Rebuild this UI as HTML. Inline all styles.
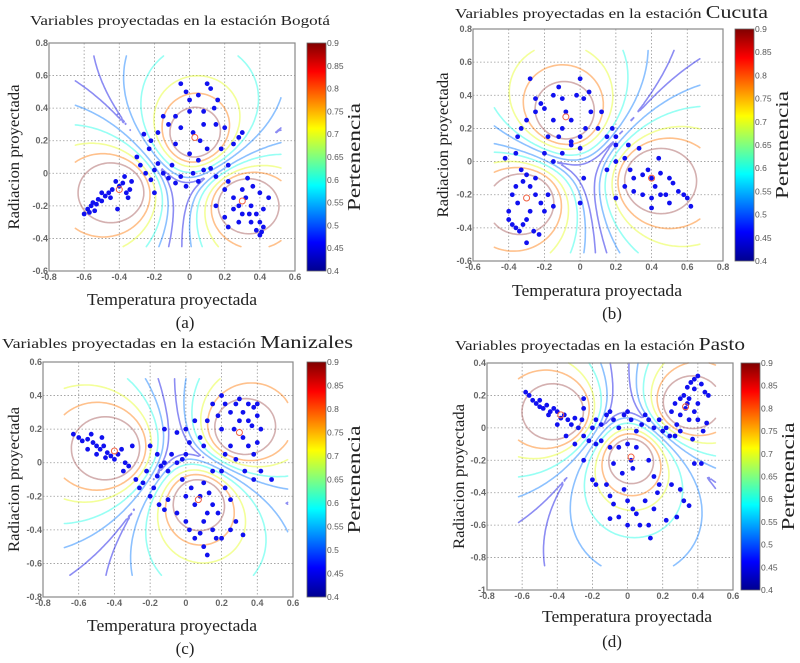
<!DOCTYPE html>
<html><head><meta charset="utf-8">
<style>
html,body{margin:0;padding:0;background:#fff;}
svg{display:block;}
.tick{font-family:"Liberation Sans",sans-serif;font-size:9px;fill:#666;font-weight:bold;}
.cbt{font-family:"Liberation Sans",sans-serif;font-size:8.5px;fill:#555;}
.lab{font-family:"Liberation Serif",serif;font-size:16px;fill:#222;}
.ttl{font-family:"Liberation Serif",serif;font-size:14px;fill:#222;}
</style></head>
<body>
<svg id="fig" width="800" height="663" viewBox="0 0 800 663" xmlns="http://www.w3.org/2000/svg">
<defs>
<linearGradient id="jet" x1="0" y1="1" x2="0" y2="0">
<stop offset="0" stop-color="#00008f"/><stop offset="0.125" stop-color="#0000ff"/>
<stop offset="0.375" stop-color="#00ffff"/><stop offset="0.625" stop-color="#ffff00"/>
<stop offset="0.875" stop-color="#ff0000"/><stop offset="1" stop-color="#800000"/>
</linearGradient>
</defs>
</svg>
<script>
const NS="http://www.w3.org/2000/svg";
const svg=document.getElementById('fig');
const levels=[0.45,0.52,0.6,0.7,0.78,0.86];
const cbTicks=[0.4,0.45,0.5,0.55,0.6,0.65,0.7,0.75,0.8,0.85,0.9];

const ptsA=[[-0.6,-0.25],[-0.58,-0.22],[-0.56,-0.2],[-0.55,-0.18],[-0.53,-0.19],[-0.52,-0.16],[-0.5,-0.17],[-0.48,-0.14],[-0.46,-0.12],[-0.44,-0.1],[-0.42,-0.05],[-0.4,-0.08],[-0.38,-0.06],[-0.36,-0.12],[-0.35,-0.15],[-0.34,-0.1],[-0.33,-0.05],[-0.41,-0.22],[-0.45,-0.15],[-0.54,-0.23],[-0.57,-0.24],[-0.5,-0.12],[-0.37,-0.02],
[-0.3,0.1],[-0.28,0.05],[-0.25,0.0],[-0.22,-0.04],[-0.2,0.02],[-0.18,0.06],[-0.15,0.0],[-0.12,-0.03],[-0.1,0.05],[-0.08,-0.06],[-0.05,-0.02],[-0.02,-0.08],[0.02,0.0],[0.05,-0.05],[0.08,0.02],[0.12,0.03],[0.15,-0.02],[-0.26,0.24],[-0.22,0.2],[-0.18,0.25],[-0.2,-0.12],[-0.23,0.15],
[-0.05,0.55],[-0.02,0.5],[0.0,0.45],[0.05,0.48],[0.1,0.55],[0.12,0.52],[0.16,0.45],[0.14,0.4],[0.08,0.38],[0.0,0.38],[-0.08,0.35],[-0.12,0.3],[-0.05,0.28],[0.02,0.25],[0.06,0.2],[0.1,0.15],[0.15,0.3],[0.2,0.28],[0.0,0.12],[0.05,0.08],[-0.08,0.18],[-0.15,0.35],[0.18,0.15],[0.28,0.22],[0.3,0.25],[0.25,0.18],[0.22,0.05],[0.08,0.3],
[0.2,-0.1],[0.22,-0.05],[0.25,-0.15],[0.28,-0.2],[0.3,-0.1],[0.32,-0.15],[0.35,-0.2],[0.38,-0.25],[0.4,-0.3],[0.42,-0.33],[0.38,-0.35],[0.35,-0.3],[0.3,-0.25],[0.25,-0.22],[0.42,-0.22],[0.45,-0.15],[0.4,-0.12],[0.36,-0.08],[0.33,-0.03],[0.2,-0.27],[0.15,-0.2],[0.22,-0.33],[0.4,-0.38],[0.28,-0.3],[0.34,-0.25],[0.41,-0.36]];
const ptsB=[[-0.4,-0.35],[-0.38,-0.38],[-0.36,-0.4],[-0.34,-0.42],[-0.32,-0.38],[-0.3,-0.35],[-0.28,-0.3],[-0.35,-0.25],[-0.38,-0.2],[-0.36,-0.15],[-0.32,-0.12],[-0.28,-0.15],[-0.25,-0.2],[-0.22,-0.25],[-0.2,-0.3],[-0.26,-0.42],[-0.3,-0.49],[-0.23,-0.44],[-0.4,-0.3],[-0.33,-0.05],[-0.3,-0.08],[-0.25,-0.1],[-0.42,0.02],[-0.36,0.05],[-0.15,-0.27],[-0.18,-0.2],
[-0.35,0.15],[-0.33,0.2],[-0.3,0.25],[-0.25,0.3],[-0.22,0.35],[-0.2,0.32],[-0.15,0.4],[-0.12,0.45],[-0.1,0.38],[-0.08,0.3],[-0.05,0.25],[-0.02,0.4],[0.0,0.5],[0.02,0.38],[0.05,0.42],[0.06,0.3],[0.0,0.15],[-0.05,0.12],[-0.1,0.2],[-0.15,0.25],[-0.18,0.15],[-0.28,0.5],[-0.12,0.15],[0.1,0.2],[0.15,0.15],[0.12,0.3],[-0.25,0.38],[0.03,0.2],[-0.2,0.05],[-0.15,0.0],[-0.1,0.05],[-0.05,0.1],[0.0,0.08],[0.02,-0.1],[0.0,-0.25],[0.18,0.2],[0.2,0.15],[0.2,0.1],
[0.15,-0.05],[0.2,0.0],[0.25,0.02],[0.28,-0.05],[0.3,-0.1],[0.35,-0.08],[0.38,-0.05],[0.4,-0.1],[0.42,-0.15],[0.45,-0.07],[0.5,-0.1],[0.52,-0.13],[0.55,-0.18],[0.58,-0.2],[0.6,-0.22],[0.62,-0.27],[0.45,-0.2],[0.4,-0.22],[0.35,-0.2],[0.3,-0.18],[0.25,-0.15],[0.4,-0.28],[0.48,-0.2],[0.33,0.08],[0.27,0.1],[0.2,-0.22],[0.5,-0.25],[0.44,0.02]];
const ptsC=[[-0.63,0.17],[-0.6,0.15],[-0.58,0.13],[-0.55,0.14],[-0.52,0.12],[-0.5,0.1],[-0.48,0.08],[-0.46,0.1],[-0.44,0.06],[-0.42,0.04],[-0.4,0.02],[-0.38,0.05],[-0.36,0.08],[-0.34,0.0],[-0.32,-0.02],[-0.3,0.1],[-0.55,0.08],[-0.5,0.05],[-0.45,0.03],[-0.35,-0.05],[-0.47,0.15],[-0.53,0.17],
[-0.28,-0.1],[-0.26,-0.15],[-0.24,-0.12],[-0.22,-0.05],[-0.2,-0.2],[-0.18,-0.15],[-0.16,-0.08],[-0.14,-0.02],[-0.12,0.0],[-0.1,-0.05],[-0.15,-0.25],[-0.12,-0.28],[-0.1,-0.22],[-0.2,0.1],[-0.16,0.05],[-0.08,0.05],[-0.05,0.0],[-0.02,0.02],[0.0,0.05],[0.02,0.12],[-0.05,0.18],[-0.12,0.2],[0.0,0.2],[0.05,0.25],[0.08,0.15],[0.1,0.1],
[-0.05,-0.3],[0.0,-0.35],[0.02,-0.4],[0.05,-0.45],[0.08,-0.42],[0.1,-0.35],[0.12,-0.3],[0.15,-0.4],[0.17,-0.45],[0.0,-0.2],[0.03,-0.15],[0.05,-0.25],[0.08,-0.2],[0.1,-0.12],[0.13,-0.18],[0.15,-0.25],[0.18,-0.3],[-0.02,-0.1],[0.12,-0.55],[0.1,-0.5],[0.2,-0.45],[0.25,-0.4],[0.28,-0.35],[0.32,-0.43],[0.22,-0.15],[0.25,-0.22],[0.15,-0.05],[0.2,-0.05],
[0.2,0.4],[0.22,0.35],[0.25,0.3],[0.28,0.35],[0.3,0.38],[0.35,0.35],[0.38,0.33],[0.4,0.28],[0.42,0.2],[0.4,0.12],[0.38,0.05],[0.35,0.1],[0.32,0.15],[0.3,0.25],[0.27,0.2],[0.25,0.1],[0.22,0.05],[0.2,0.2],[0.18,0.28],[0.15,0.35],[0.12,0.25],[0.35,0.25],[0.4,0.35],[0.33,-0.05],[0.38,-0.1],[0.42,-0.05],[0.48,-0.1],[0.28,0.02],[0.37,0.22],[0.32,0.3]];
const ptsD=[[-0.58,0.22],[-0.56,0.2],[-0.54,0.17],[-0.52,0.15],[-0.5,0.13],[-0.48,0.12],[-0.46,0.14],[-0.44,0.1],[-0.42,0.12],[-0.4,0.1],[-0.38,0.06],[-0.36,0.08],[-0.34,0.05],[-0.32,0.02],[-0.3,0.06],[-0.28,0.0],[-0.5,0.17],[-0.45,0.08],[-0.4,0.02],[-0.35,-0.05],[-0.25,0.12],[-0.25,0.18],[-0.3,-0.1],[-0.25,-0.05],[-0.26,0.05],
[-0.2,0.0],[-0.18,0.05],[-0.15,0.02],[-0.12,0.08],[-0.1,0.1],[-0.08,0.05],[-0.05,0.0],[-0.02,0.08],[0.0,0.1],[0.02,0.05],[0.05,-0.02],[0.08,0.02],[0.1,0.08],[0.12,0.05],[0.15,0.0],[0.18,0.05],[0.2,-0.02],[0.22,0.0],[-0.22,-0.08],[-0.18,-0.1],[-0.15,-0.08],[0.24,-0.05],[0.27,-0.05],[-0.25,-0.2],
[-0.1,-0.12],[-0.05,-0.12],[0.0,-0.1],[0.02,-0.2],[0.03,-0.25],[0.05,-0.12],[-0.03,-0.28],[-0.08,-0.22],[-0.12,-0.35],[-0.2,-0.32],[-0.18,-0.35],[-0.1,-0.42],[-0.08,-0.47],[-0.1,-0.56],[-0.05,-0.55],[0.0,-0.6],[0.03,-0.5],[0.05,-0.53],[0.07,-0.6],[0.1,-0.45],[0.12,-0.6],[0.13,-0.68],[0.15,-0.5],[0.17,-0.4],[0.18,-0.35],[0.15,-0.3],[0.12,-0.2],[0.22,-0.57],[0.25,-0.35],[0.3,-0.38],[0.28,-0.55],[0.32,-0.45],[0.35,-0.48],[0.38,-0.22],[0.0,-0.45],[-0.02,-0.38],
[0.25,0.1],[0.27,0.15],[0.3,0.18],[0.32,0.2],[0.34,0.25],[0.36,0.28],[0.38,0.3],[0.4,0.32],[0.42,0.27],[0.44,0.22],[0.46,0.2],[0.4,0.15],[0.38,0.1],[0.35,0.05],[0.33,0.12],[0.3,0.08],[0.28,0.02],[0.3,-0.02],[0.35,0.18],[0.4,0.05],[0.43,-0.02],[0.38,0.24],[0.34,0.15],[0.45,0.03],[0.37,-0.07],[0.42,-0.22]];

const centersA=[[-0.4,-0.1],[0.03,0.22],[0.3,-0.17]];
const centersB=[[-0.3,-0.22],[-0.08,0.27],[0.4,-0.1]];
const centersC=[[-0.4,0.07],[0.07,-0.22],[0.3,0.18]];
const centersD=[[-0.38,0.08],[0.02,-0.18],[0.33,0.13]];

const xticksA=[-0.8,-0.6,-0.4,-0.2,0,0.2,0.4,0.6], yticksA=[-0.6,-0.4,-0.2,0,0.2,0.4,0.6,0.8];
const xticksB=[-0.6,-0.4,-0.2,0,0.2,0.4,0.6,0.8], yticksB=[-0.6,-0.4,-0.2,0,0.2,0.4,0.6,0.8];
const xticksC=[-0.8,-0.6,-0.4,-0.2,0,0.2,0.4,0.6], yticksC=[-0.8,-0.6,-0.4,-0.2,0,0.2,0.4,0.6];
const xticksD=[-0.8,-0.6,-0.4,-0.2,0,0.2,0.4,0.6], yticksD=[-1,-0.8,-0.6,-0.4,-0.2,0,0.2,0.4];

function el(tag,attrs,parent){const e=document.createElementNS(NS,tag);for(const k in attrs)e.setAttribute(k,attrs[k]);(parent||svg).appendChild(e);return e;}
function jet(t){t=Math.max(0,Math.min(1,t));const c=v=>Math.round(255*Math.max(0,Math.min(1,1.5-Math.abs(v))));return `rgb(${c(4*t-3)},${c(4*t-2)},${c(4*t-1)})`;}
function fmt(v){return (Math.round(v*100)/100).toString();}

function panel(p){
  const g=el('g',{});
  
  
  const sx=v=>p.x0+(v-p.xt[0])/(p.xt[p.xt.length-1]-p.xt[0])*(p.x1-p.x0);
  const sy=v=>p.y1-(v-p.yt[0])/(p.yt[p.yt.length-1]-p.yt[0])*(p.y1-p.y0);
  el('rect',{x:p.x0,y:p.y0,width:p.x1-p.x0,height:p.y1-p.y0,fill:'#fff'},g);
  const grid=el('g',{stroke:'#999','stroke-width':0.8,'stroke-dasharray':'1.5,2'},g);
  
  
  p.xt.forEach(v=>el('line',{x1:sx(v),x2:sx(v),y1:p.y0,y2:p.y1},grid));
  p.yt.forEach(v=>el('line',{y1:sy(v),y2:sy(v),x1:p.x0,x2:p.x1},grid));
  const C=p.centers;
  const f=(x,y)=>{let s=0,mx=0;const w=C.map(c=>{const d=(x-c[0])**2+(y-c[1])**2+1e-9;return 1/d;});w.forEach(v=>s+=v);w.forEach(v=>mx=Math.max(mx,v));return mx/s;};
  const N=90,[ex0,ex1,ey0,ey1]=p.ext;
  const gx=i=>ex0+(ex1-ex0)*i/N, gy=j=>ey0+(ey1-ey0)*j/N;
  const F=[];for(let i=0;i<=N;i++){F[i]=[];for(let j=0;j<=N;j++)F[i][j]=f(gx(i),gy(j));}
  const cg=el('g',{fill:'none','stroke-width':1.6,'stroke-opacity':0.45,'stroke-linecap':'round'},g);
  
  
  levels.forEach(L=>{
    let d='';
    for(let i=0;i<N;i++)for(let j=0;j<N;j++){
      const v=[F[i][j],F[i+1][j],F[i+1][j+1],F[i][j+1]];
      const P=[[gx(i),gy(j)],[gx(i+1),gy(j)],[gx(i+1),gy(j+1)],[gx(i),gy(j+1)]];
      const cr=[];
      for(let e=0;e<4;e++){const a=v[e],b=v[(e+1)%4];if((a>=L)!==(b>=L)){const t=(L-a)/(b-a);const A=P[e],B=P[(e+1)%4];cr.push([A[0]+t*(B[0]-A[0]),A[1]+t*(B[1]-A[1])]);}}
      for(let k=0;k+1<cr.length;k+=2)d+=`M${sx(cr[k][0]).toFixed(1)} ${sy(cr[k][1]).toFixed(1)}L${sx(cr[k+1][0]).toFixed(1)} ${sy(cr[k+1][1]).toFixed(1)}`;
    }
    const col=L>0.83?'#a05050':jet((L-0.4)/0.5);
    const path=el('path',{d:d,stroke:col},cg);
    
    
  });
  const pg=el('g',{fill:'#1010f0'},g);
  
  
  p.pts.forEach(q=>{const c=el('circle',{cx:sx(q[0]),cy:sy(q[1]),r:2.4},pg);
    
    });
  C.forEach(c=>{const m=el('circle',{cx:sx(c[0]),cy:sy(c[1]),r:3,fill:'none',stroke:'#f06040','stroke-width':1},g);
    
    });
  const fr=el('rect',{x:p.x0,y:p.y0,width:p.x1-p.x0,height:p.y1-p.y0,fill:'none',stroke:'#888','stroke-width':1.2},g);
  
  
  p.xt.forEach(v=>{const t=el('text',{x:sx(v),y:p.y1+9,'text-anchor':'middle',class:'tick'},g);t.textContent=fmt(v);
    });
  p.yt.forEach(v=>{const t=el('text',{x:p.x0-1,y:sy(v)+3,'text-anchor':'end',class:'tick'},g);t.textContent=fmt(v);
    });
  const cb=el('rect',{x:p.cbx,y:p.y0,width:19,height:p.y1-p.y0,fill:'url(#jet)',stroke:'#666','stroke-width':0.8},g);
  
  
  cbTicks.forEach(v=>{const y=p.y1-(v-0.4)/0.5*(p.y1-p.y0);const t=el('text',{x:p.cbx+20,y:y+3,class:'cbt'},g);t.textContent=fmt(v);
    });
  const cy=(p.y0+p.y1)/2;
  const pl=el('text',{x:p.cbx+53,y:cy,transform:`rotate(-90 ${p.cbx+53} ${cy})`,'text-anchor':'middle',class:'lab',textLength:108,lengthAdjust:'spacingAndGlyphs',style:'font-size:18px'},g);pl.textContent='Pertenencia';
  
  const yl=el('text',{x:p.ylx,y:cy,transform:`rotate(-90 ${p.ylx} ${cy})`,'text-anchor':'middle',class:'lab',textLength:145,lengthAdjust:'spacingAndGlyphs'},g);yl.textContent='Radiacion proyectada';
  
  const xl=el('text',{x:p.xlx,y:p.xly,'text-anchor':'middle',class:'lab',textLength:170,lengthAdjust:'spacingAndGlyphs',style:'font-size:17px'},g);xl.textContent='Temperatura proyectada';
  
  const cap=el('text',{x:p.capx,y:p.capy,'text-anchor':'middle',class:'lab',style:'font-size:17px'},g);cap.textContent=p.cap;
  
  const tt=el('text',{x:p.tx,y:p.ty,class:'ttl',textLength:p.tw,lengthAdjust:'spacingAndGlyphs'},g);
  
  const s1=el('tspan',{},tt);s1.textContent='Variables proyectadas en la estación ';
  const s2=el('tspan',{style:'font-size:'+p.tfs+'px'},tt);s2.textContent=p.station;
}

panel({name:'panel-bogota',x0:49,x1:295,y0:43,y1:271,cbx:307,xt:xticksA,yt:yticksA,centers:centersA,pts:ptsA,ext:[-0.65,0.52,-0.45,0.72],
  ylx:19,xlx:172,xly:305,capx:185,capy:328,cap:'(a)',tx:30,ty:25,tw:300,station:'Bogotá',tfs:14});
panel({name:'panel-cucuta',x0:473,x1:723,y0:29,y1:261,cbx:735,xt:xticksB,yt:yticksB,centers:centersB,pts:ptsB,ext:[-0.48,0.67,-0.55,0.67],
  ylx:448,xlx:597,xly:296,capx:612,capy:319,cap:'(b)',tx:455,ty:18,tw:313,station:'Cucuta',tfs:18});
panel({name:'panel-manizales',x0:43,x1:293,y0:362,y1:597,cbx:307,xt:xticksC,yt:yticksC,centers:centersC,pts:ptsC,ext:[-0.68,0.57,-0.67,0.5],
  ylx:19,xlx:172,xly:631,capx:185,capy:654,cap:'(c)',tx:2,ty:348,tw:351,station:'Manizales',tfs:18});
panel({name:'panel-pasto',x0:487,x1:733,y0:363,y1:590,cbx:741,xt:xticksD,yt:yticksD,centers:centersD,pts:ptsD,ext:[-0.62,0.5,-0.85,0.4],
  ylx:464,xlx:627,xly:622,capx:612,capy:647,cap:'(d)',tx:455,ty:350,tw:290,station:'Pasto',tfs:18});
</script>
</body></html>
